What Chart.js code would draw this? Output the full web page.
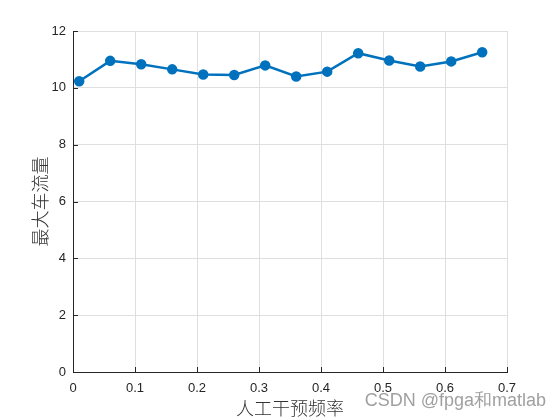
<!DOCTYPE html>
<html>
<head>
<meta charset="utf-8">
<script src="https://cdn.jsdelivr.net/npm/chart.js@4"></script>
<style>
  body { margin: 0; background: #fff; }
</style>
</head>
<body>
<canvas id="flowChart" width="560" height="420"></canvas>
<script>
// intervention frequency vs max traffic flow
const freqs = [0.01, 0.06, 0.11, 0.16, 0.21, 0.26, 0.31, 0.36, 0.41, 0.46, 0.51, 0.56, 0.61, 0.66];
const maxFlow = [10.23, 10.95, 10.83, 10.65, 10.47, 10.45, 10.79, 10.40, 10.57, 11.22, 10.96, 10.75, 10.93, 11.25];
const xTicks = [0, 0.1, 0.2, 0.3, 0.4, 0.5, 0.6, 0.7];
const yTicks = [0, 2, 4, 6, 8, 10, 12];

const axisColor = '#262626';
const gridColor = '#dfdfdf';
const tickFont = { family: 'Liberation Sans, Arial, sans-serif', size: 13, lineHeight: 1.2 };
const titleFont = { family: 'Noto Sans CJK SC, sans-serif', size: 18, weight: 300, lineHeight: 1.2 };

// MATLAB style ticks point inward
const innerTicks = {
	id: 'innerTicks',
	afterDatasetsDraw(chart) {
		const { ctx, chartArea, scales: { x, y } } = chart;
		ctx.save();
		ctx.strokeStyle = axisColor;
		ctx.lineWidth = 1;
		ctx.beginPath();
		for (let v of xTicks) {
			let px = Math.round(x.getPixelForValue(v)) + 0.5;
			ctx.moveTo(px, chartArea.bottom);
			ctx.lineTo(px, chartArea.bottom - 5);
		}
		for (let v of yTicks) {
			let py = Math.round(y.getPixelForValue(v)) + 0.5;
			ctx.moveTo(chartArea.left, py);
			ctx.lineTo(chartArea.left + 5, py);
		}
		ctx.stroke();
		ctx.restore();
	}
};

const watermark = {
	id: 'watermark',
	afterDraw(chart) {
		const ctx = chart.ctx;
		ctx.save();
		ctx.font = '18px "Liberation Sans", Arial, sans-serif';
		ctx.fillStyle = '#a0a0a0';
		ctx.textAlign = 'right';
		ctx.textBaseline = 'alphabetic';
		ctx.fillText('CSDN @fpga和matlab', 546, 406);
		ctx.restore();
	}
};

new Chart(document.getElementById('flowChart').getContext('2d'), {
	type: 'line',
	data: {
		datasets: [{
			data: freqs.map((f, i) => ({ x: f, y: maxFlow[i] })),
			borderColor: '#0072BD',
			backgroundColor: '#0072BD',
			borderWidth: 2.5,
			pointRadius: 4,
			pointHoverRadius: 4,
			tension: 0
		}]
	},
	options: {
		responsive: false,
		animation: false,
		layout: { padding: { top: 31, right: 53, left: 0, bottom: 0 } },
		plugins: { legend: { display: false }, tooltip: { enabled: false } },
		scales: {
			x: {
				type: 'linear',
				min: 0, max: 0.7,
				afterFit(scale) { scale.height = 48; },
				afterBuildTicks(scale) { scale.ticks = xTicks.map(v => ({ value: v })); },
				grid: { color: gridColor, drawTicks: false },
				border: { color: axisColor, width: 1 },
				ticks: {
					color: axisColor, font: tickFont, padding: 9, maxRotation: 0,
					callback: v => Number(v.toFixed(1)).toString()
				},
				title: { display: true, text: '人工干预频率', color: '#333', font: titleFont, padding: { top: 0, bottom: 1 } }
			},
			y: {
				min: 0, max: 12,
				afterFit(scale) { scale.width = 73; },
				afterBuildTicks(scale) { scale.ticks = yTicks.map(v => ({ value: v })); },
				grid: { color: gridColor, drawTicks: false },
				border: { color: axisColor, width: 1 },
				ticks: { color: axisColor, font: tickFont, padding: 7 },
				title: { display: true, text: '最大车流量', color: '#333', font: titleFont, padding: { top: 29, bottom: 0 } }
			}
		}
	},
	plugins: [innerTicks, watermark]
});
</script>
</body>
</html>
